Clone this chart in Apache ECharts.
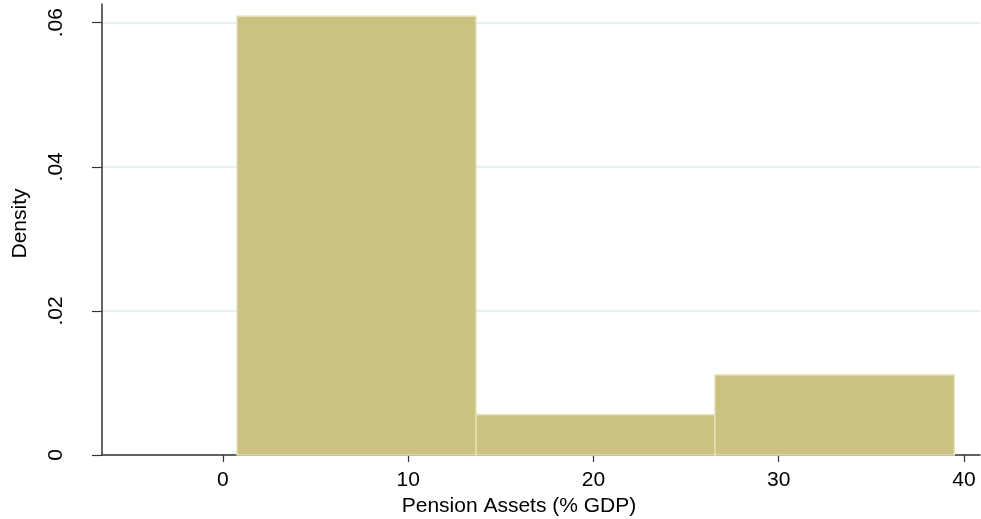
<!DOCTYPE html>
<html>
<head>
<meta charset="utf-8">
<script src="https://cdn.jsdelivr.net/npm/echarts@6/dist/echarts.min.js"></script>
<style>html,body{margin:0;padding:0;background:#fff;}#c{width:981px;height:519px;}</style>
</head>
<body>
<div id="c"></div>
<script>
// Histogram bins (Pension Assets, % GDP) and densities
var binStarts = [0.76, 13.66, 26.56];
var binEnds = [13.66, 26.56, 39.48];
var densities = [0.0609, 0.0056, 0.0111];
var xTicks = [0, 10, 20, 30, 40];
var yTicks = [0, 0.02, 0.04, 0.06];
var yTickLabels = ['0', '.02', '.04', '.06'];

var data = binStarts.map(function (s, i) { return [s, binEnds[i], densities[i]]; });
var font = 'Liberation Sans, Arial, Helvetica, sans-serif';
var chart = echarts.init(document.getElementById('c'), null, {renderer: 'canvas'});
chart.setOption({
  animation: false,
  backgroundColor: '#ffffff',
  grid: {left: 102, right: 1, top: 4, bottom: 64, containLabel: false, outerBoundsMode: 'none'},
  xAxis: {
    type: 'value', min: -6.53, max: 40.87,
    name: 'Pension Assets (% GDP)', nameLocation: 'middle', nameGap: 28,
    nameTextStyle: {fontFamily: font, fontSize: 21, color: '#000', padding: [0, 44, 0, 0]},
    axisLine: {show: true, lineStyle: {color: '#333', width: 1.5}},
    axisTick: {show: true, length: 7, lineStyle: {color: '#333', width: 1.2}, customValues: xTicks},
    axisLabel: {fontFamily: font, fontSize: 21, color: '#000', margin: 15, customValues: xTicks},
    splitLine: {show: false}
  },
  yAxis: {
    type: 'value', min: 0, max: 0.0626,
    name: 'Density', nameLocation: 'middle', nameGap: 71,
    nameTextStyle: {fontFamily: font, fontSize: 21, color: '#000', padding: [0, 0, 0, 12]},
    axisLine: {show: true, onZero: false, lineStyle: {color: '#333', width: 1.5}},
    axisTick: {show: true, length: 10, lineStyle: {color: '#333', width: 1.2}, customValues: yTicks},
    axisLabel: {fontFamily: font, fontSize: 21, color: '#000', rotate: 90, margin: 35, customValues: yTicks,
      formatter: function (v) { var i = -1; for (var k = 0; k < yTicks.length; k++) if (Math.abs(yTicks[k] - v) < 1e-9) i = k; return i >= 0 ? yTickLabels[i] : ''; }},
    splitLine: {show: true, customValues: [0.02, 0.04, 0.06], lineStyle: {color: '#e6eff2', width: 2}}
  },
  series: [{
    type: 'custom',
    data: data,
    encode: {x: [0, 1], y: 2},
    renderItem: function (params, api) {
      var p0 = api.coord([api.value(0), api.value(2)]);
      var p1 = api.coord([api.value(1), 0]);
      return {
        type: 'rect',
        shape: {x: p0[0], y: p0[1], width: p1[0] - p0[0], height: p1[1] - p0[1]},
        style: {fill: '#c9c280', stroke: '#e4e0b4', lineWidth: 1.5}
      };
    }
  }]
});
</script>
</body>
</html>
